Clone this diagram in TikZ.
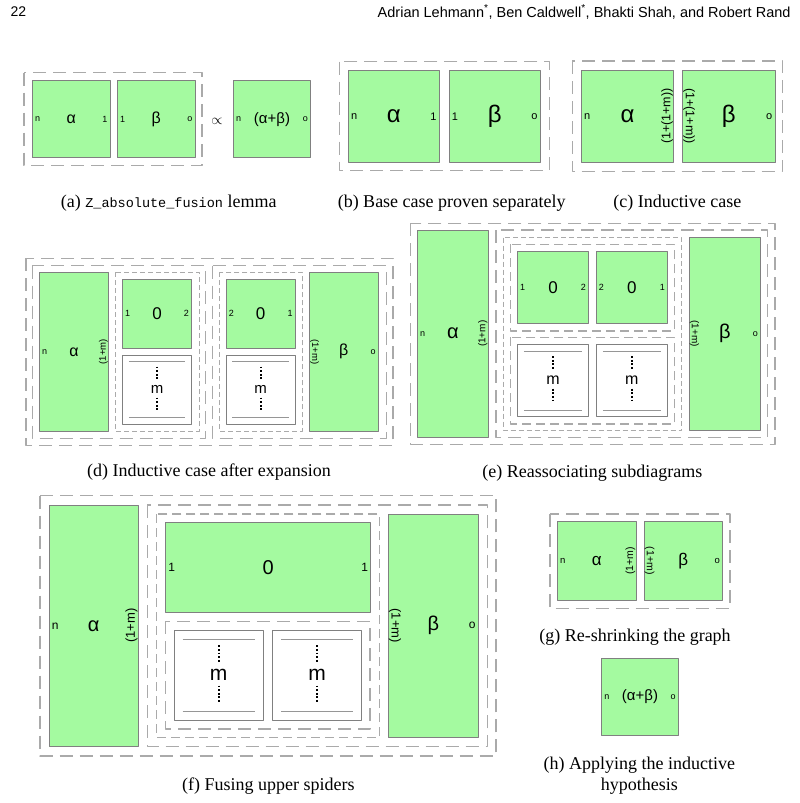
\documentclass[tikz,border=0pt]{standalone}
\usepackage{fontspec}
\setmainfont{Liberation Serif}
\setmonofont{Liberation Mono}
\newfontfamily\lblfont{Liberation Sans}
\usetikzlibrary{calc}

\definecolor{spidergreen}{RGB}{164,250,160}
\definecolor{boxgray}{RGB}{128,128,128}
\definecolor{wiregray}{RGB}{150,150,150}
\definecolor{dashgray}{RGB}{170,170,170}
\newcommand{\fsz}[1]{\fontsize{#1}{#1}\selectfont}

\begin{document}
\begin{tikzpicture}[x=1pt,y=-1pt,line join=round,
    spider/.style={draw=boxgray,fill=spidergreen,line width=0.9pt,inner sep=0pt,font=\lblfont\fsz{#1}},
    wirebox/.style={draw=boxgray,fill=white,line width=0.9pt,inner sep=0pt,font=\lblfont\fsz{#1}},
    port/.style={inner sep=3pt,font=\lblfont\fsz{#1}},
    rot/.style={inner sep=1pt,font=\lblfont\fsz{#1}},
    longdash/.style={draw=dashgray,line width=1.2pt,dash pattern=on 13pt off 7pt},
    middash/.style={draw=dashgray,line width=1.1pt,dash pattern=on 9pt off 5pt},
    shortdash/.style={draw=dashgray,line width=1pt,dash pattern=on 5pt off 3pt},
    caption/.style={font=\fontsize{18}{21}\selectfont,align=center}]
    \useasboundingbox (0,0) rectangle (800,803);
    % running head
    \node[anchor=west,font=\lblfont\fsz{14}] (pagenum) at (7,12) {22};
    \node[anchor=east,font=\lblfont\fsz{14.5}] (authors) at (794,12)
        {Adrian Lehmann\textsuperscript{*}, Ben Caldwell\textsuperscript{*}, Bhakti Shah, and Robert Rand};

    % (a)
    \draw[longdash] (24,72.7) rectangle (202,165.7);
    \node[spider=16,minimum width=77.7,minimum height=77] (aA) at (71.2,119.2) {α};
    \node[spider=16,minimum width=77.7,minimum height=77] (aB) at (156.2,119.2) {β};
    \node[spider=15,minimum width=77.4,minimum height=77] (aAB) at (272,119.2) {(α+β)};
    \node[port=9,anchor=west] (aA-n) at (aA.west) {n};
    \node[port=9,anchor=east] (aA-1) at (aA.east) {1};
    \node[port=9,anchor=west] (aB-1) at (aB.west) {1};
    \node[port=9,anchor=east] (aB-o) at (aB.east) {o};
    \node[port=9,anchor=west] (aAB-n) at (aAB.west) {n};
    \node[port=9,anchor=east] (aAB-o) at (aAB.east) {o};
    \node[font=\fsz{15}] (aprop) at (217,121) {$\propto$};
    \node[caption] (capA) at (168.7,203) {(a) {\ttfamily\fsz{13.5}Z\_absolute\_fusion} lemma};

    % (b)
    \draw[longdash] (339.3,61.7) rectangle (549.3,170.7);
    \node[spider=24,minimum width=91,minimum height=91.5] (bA) at (393.8,116.3) {α};
    \node[spider=24,minimum width=91,minimum height=91.5] (bB) at (494.7,116.3) {β};
    \node[port=11,anchor=west] (bA-n) at (bA.west) {n};
    \node[port=11,anchor=east] (bA-1) at (bA.east) {1};
    \node[port=11,anchor=west] (bB-1) at (bB.west) {1};
    \node[port=11,anchor=east] (bB-o) at (bB.east) {o};
    \node[caption] (capB) at (451.7,203) {(b) Base case proven separately};

    % (c)
    \draw[longdash] (572.3,61) rectangle (782.7,171.7);
    \node[spider=24,minimum width=92.4,minimum height=92.3] (cA) at (627.5,116.2) {α};
    \node[spider=24,minimum width=92.4,minimum height=92.3] (cB) at (728.8,116.2) {β};
    \node[port=11,anchor=west] (cA-n) at (cA.west) {n};
    \node[rot=12.5,rotate=90,anchor=south] (cA-r) at (cA.east) {(1+(1+m))};
    \node[rot=12.5,rotate=-90,anchor=south] (cB-l) at (cB.west) {(1+(1+m))};
    \node[port=11,anchor=east] (cB-o) at (cB.east) {o};
    \node[caption] (capC) at (677.3,203) {(c) Inductive case};

    % (d)
    \draw[longdash] (26,258.3) rectangle (393,445.3);
    \draw[longdash] (32.3,265.5) rectangle (205.3,438.3);
    \draw[longdash] (212.3,265.5) rectangle (386.3,438.3);
    \draw[shortdash] (115.3,272.3) rectangle (199,431.3);
    \draw[shortdash] (219.3,272.3) rectangle (302.3,431.3);
    \node[spider=16,minimum width=69.4,minimum height=159] (dA) at (74,351.8) {α};
    \node[spider=17,minimum width=69.4,minimum height=69] (dZ1) at (157,313.8) {0};
    \node[spider=17,minimum width=69.4,minimum height=69] (dZ2) at (260.7,313.8) {0};
    \node[spider=16,minimum width=69,minimum height=159] (dB) at (343.8,351.8) {β};
    \node[port=9,anchor=west] (dA-n) at (dA.west) {n};
    \node[rot=9.5,rotate=90,anchor=south] (dA-r) at (dA.east) {(1+m)};
    \node[port=9,anchor=west] (dZ1-1) at (dZ1.west) {1};
    \node[port=9,anchor=east] (dZ1-2) at (dZ1.east) {2};
    \node[port=9,anchor=west] (dZ2-2) at (dZ2.west) {2};
    \node[port=9,anchor=east] (dZ2-1) at (dZ2.east) {1};
    \node[rot=9.5,rotate=-90,anchor=south] (dB-l) at (dB.west) {(1+m)};
    \node[port=9,anchor=east] (dB-o) at (dB.east) {o};
    \node[caption] (capD) at (209,472) {(d) Inductive case after expansion};

    % (e)
    \draw[longdash] (410.7,223.3) rectangle (775,444.3);
    \draw[longdash] (496,230) rectangle (767.3,437.7);
    \draw[shortdash] (503.3,237.5) rectangle (681.7,430.3);
    \draw[middash] (510.7,244.3) rectangle (674.3,331);
    \draw[middash] (510.7,337.3) rectangle (674.3,424);
    \node[spider=20,minimum width=71,minimum height=207.3] (eA) at (452.8,333.7) {α};
    \node[spider=17,minimum width=71.4,minimum height=71.6] (eZ1) at (553,287.5) {0};
    \node[spider=17,minimum width=71.4,minimum height=71.6] (eZ2) at (631.8,287.5) {0};
    \node[spider=20,minimum width=71.7,minimum height=192.7] (eB) at (724.8,333.7) {β};
    \node[port=9,anchor=west] (eA-n) at (eA.west) {n};
    \node[rot=10,rotate=90,anchor=south] (eA-r) at (eA.east) {(1+m)};
    \node[port=9,anchor=west] (eZ1-1) at (eZ1.west) {1};
    \node[port=9,anchor=east] (eZ1-2) at (eZ1.east) {2};
    \node[port=9,anchor=west] (eZ2-2) at (eZ2.west) {2};
    \node[port=9,anchor=east] (eZ2-1) at (eZ2.east) {1};
    \node[rot=10,rotate=-90,anchor=south] (eB-l) at (eB.west) {(1+m)};
    \node[port=9,anchor=east] (eB-o) at (eB.east) {o};
    \node[caption] (capE) at (592.3,473.3) {(e) Reassociating subdiagrams};

    % (f)
    \draw[longdash] (40,495.7) rectangle (496,756);
    \draw[longdash] (147.3,505) rectangle (487.3,746.7);
    \draw[middash] (156.7,514) rectangle (379.3,737.7);
    \draw[longdash] (165.7,621.3) rectangle (370,729);
    \node[spider=20,minimum width=89.3,minimum height=241.7] (fA) at (93.7,625.8) {α};
    \node[spider=20,minimum width=205,minimum height=89.6] (fZ) at (268.2,567.5) {0};
    \node[spider=20,minimum width=90,minimum height=223.7] (fB) at (433.3,625.8) {β};
    \node[port=12,anchor=west] (fA-n) at (fA.west) {n};
    \node[rot=13,rotate=90,anchor=south] (fA-r) at (fA.east) {(1+m)};
    \node[port=12,anchor=west] (fZ-1) at (fZ.west) {1};
    \node[port=12,anchor=east] (fZ-1r) at (fZ.east) {1};
    \node[rot=13,rotate=-90,anchor=south] (fB-l) at (fB.west) {(1+m)};
    \node[port=12,anchor=east] (fB-o) at (fB.east) {o};
    \node[caption] (capF) at (268.3,786) {(f) Fusing upper spiders};

    % m wire bundles
    \foreach \nm/\cx/\cy/\w/\h/\fs in {dm1/157/389.8/69.4/69/15,dm2/260.7/389.8/69.4/69/15,
            em1/553/380.5/71.4/72.4/16,em2/631.8/380.5/71.4/72.4/16,
            fm1/218.7/675.3/89.3/89.3/21,fm2/317.2/675.3/89/89.3/21}{
        \node[wirebox=\fs,minimum width=\w,minimum height=\h] (\nm) at (\cx,\cy) {m};
        \draw[wiregray,line width=0.8pt]
            ($(\nm.north west)+(0.1*\w,0.1*\h)$) -- ($(\nm.north east)+(-0.1*\w,0.1*\h)$)
            ($(\nm.south west)+(0.1*\w,-0.1*\h)$) -- ($(\nm.south east)+(-0.1*\w,-0.1*\h)$);
        \draw[line width=2pt,dash pattern=on 1.8pt off 1.8pt]
            ($(\nm.north)+(0,0.17*\h)$) -- ($(\nm.north)+(0,0.36*\h)$)
            ($(\nm.north)+(0,0.62*\h)$) -- ($(\nm.north)+(0,0.81*\h)$);
    }

    % (g)
    \draw[longdash] (550,514) rectangle (730,608.3);
    \node[spider=17,minimum width=78.7,minimum height=78.3] (gA) at (596.7,560.8) {α};
    \node[spider=17,minimum width=78.7,minimum height=78.3] (gB) at (683.3,560.8) {β};
    \node[port=9.5,anchor=west] (gA-n) at (gA.west) {n};
    \node[rot=10.5,rotate=90,anchor=south] (gA-r) at (gA.east) {(1+m)};
    \node[rot=10.5,rotate=-90,anchor=south] (gB-l) at (gB.west) {(1+m)};
    \node[port=9.5,anchor=east] (gB-o) at (gB.east) {o};
    \node[caption] (capG) at (635,637.3) {(g) Re-shrinking the graph};

    % (h)
    \node[spider=15,minimum width=76.6,minimum height=76.7] (hAB) at (640,696.7) {(α+β)};
    \node[port=9,anchor=west] (hAB-n) at (hAB.west) {n};
    \node[port=9,anchor=east] (hAB-o) at (hAB.east) {o};
    \node[caption] (capH) at (639.3,775.5) {(h) Applying the inductive\\hypothesis};
\end{tikzpicture}
\end{document}
